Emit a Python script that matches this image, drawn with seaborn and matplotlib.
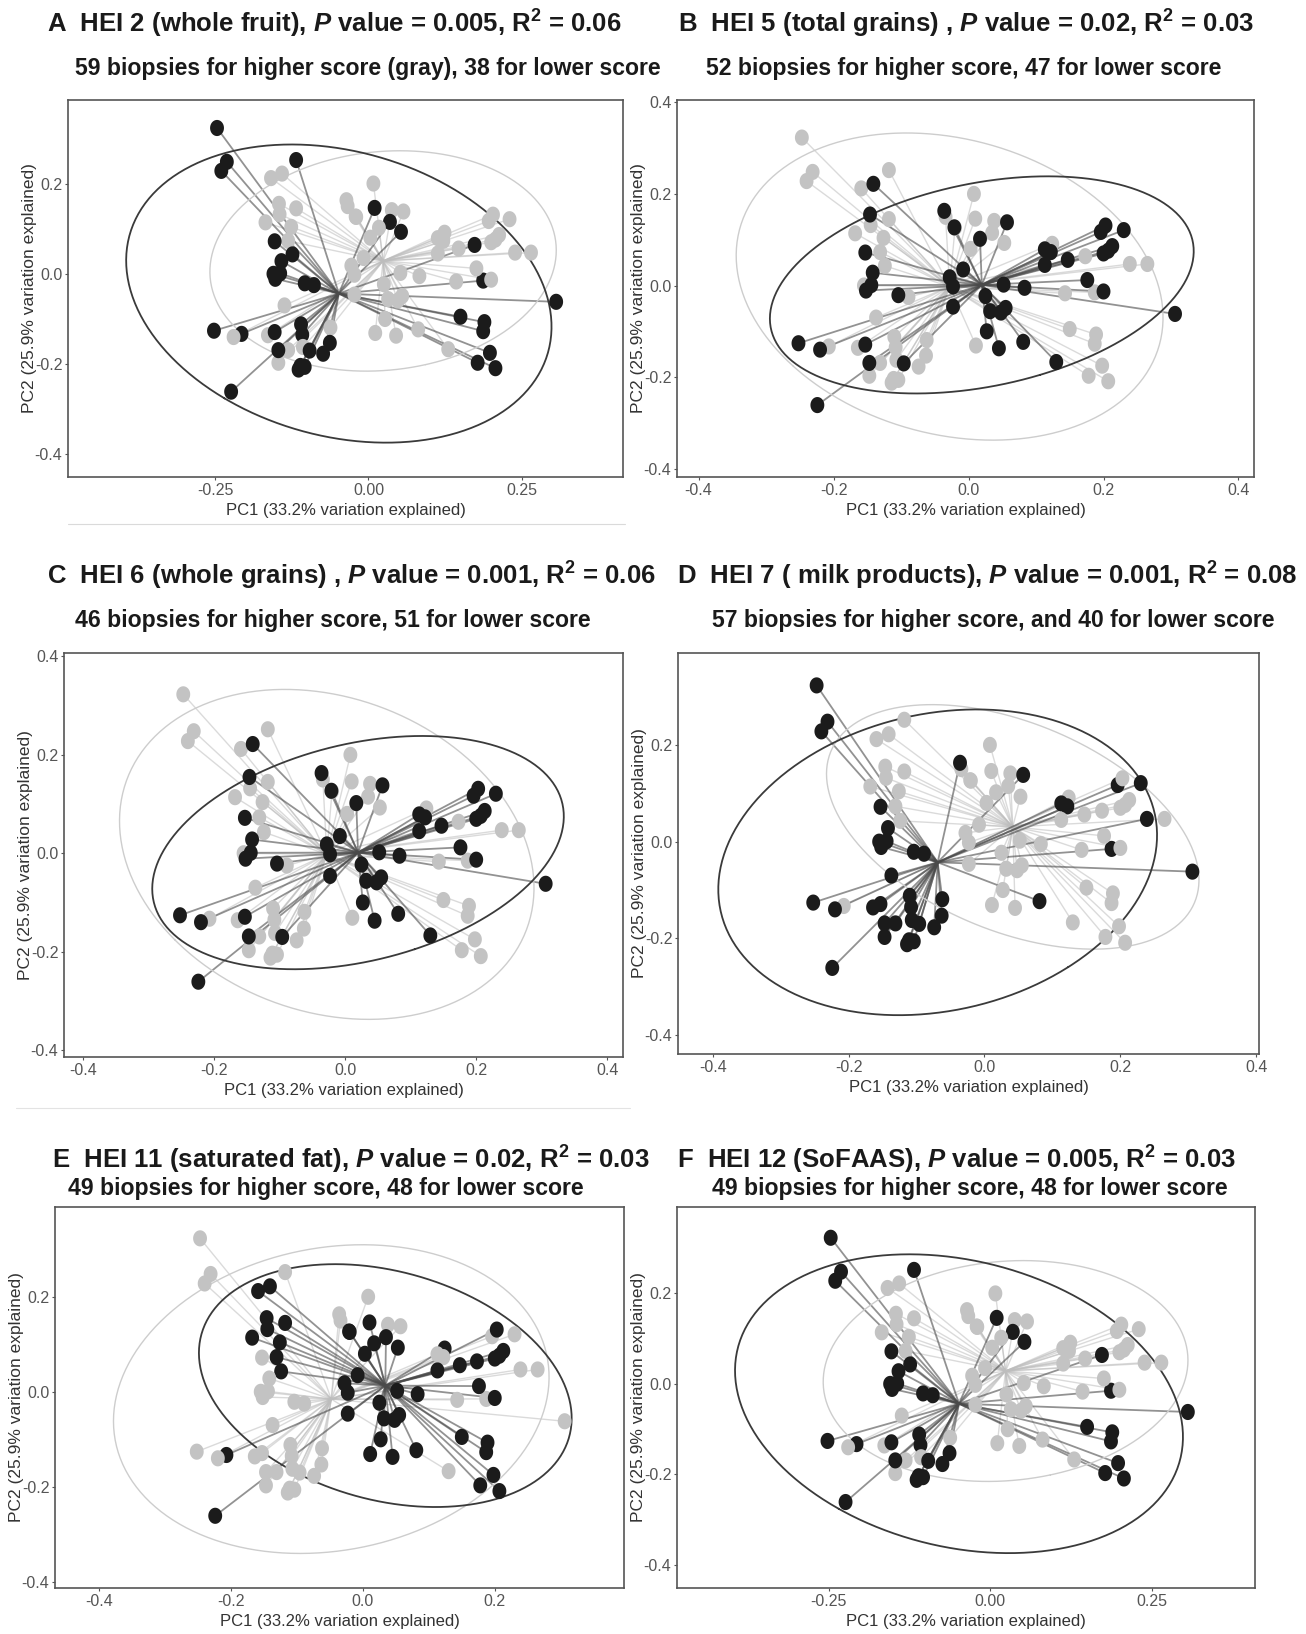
import numpy as np
import pandas as pd
import matplotlib
matplotlib.use("Agg")
import matplotlib.pyplot as plt
import seaborn as sns
from matplotlib import font_manager
from matplotlib.collections import LineCollection
from matplotlib.path import Path
from matplotlib.lines import Line2D

# ---------------- data (PCoA coordinates, shared by all panels) ----------------
PC1 = [-0.247, -0.231, -0.240, -0.118, -0.159, 0.008, -0.118, -0.145, -0.168, -0.126,
       -0.131, -0.124, -0.155, -0.089, -0.137, -0.034, -0.020, 0.010, 0.038, 0.035,
       0.053, 0.003, 0.124, 0.173, 0.239, 0.265, 0.143, 0.187, 0.150, 0.189,
       0.187, 0.198, 0.178, 0.207, 0.011, -0.207, -0.164, -0.110, -0.108, -0.062,
       -0.063, -0.131, -0.107, -0.074, -0.147, -0.111, -0.104,
       -0.141, -0.146, -0.036, -0.021, 0.057, 0.017, -0.153, -0.142, -0.144, -0.152,
       -0.104, -0.008, -0.028, -0.023, -0.023, 0.113, 0.122, 0.113, 0.147, 0.196,
       0.203, 0.230, 0.213, 0.200, 0.176, 0.200, 0.052, 0.083, 0.025, 0.032,
       0.048, 0.055, 0.027, 0.045, 0.081, 0.130, 0.306, -0.252, -0.220, -0.153,
       -0.147, -0.096, -0.224, -0.114, 0.207]
PC2 = [0.323, 0.248, 0.228, 0.252, 0.212, 0.200, 0.145, 0.132, 0.114, 0.104,
       0.073, 0.043, 0.000, -0.025, -0.070, 0.150, 0.126, 0.146, 0.141, 0.115,
       0.093, 0.080, 0.091, 0.064, 0.047, 0.047, -0.017, -0.015, -0.095, -0.107,
       -0.127, -0.175, -0.197, -0.209, -0.131, -0.133, -0.136, -0.112, -0.135, -0.119,
       -0.153, -0.169, -0.162, -0.177, -0.197, -0.204, -0.206,
       0.222, 0.155, 0.163, 0.127, 0.138, 0.102, 0.072, 0.028, 0.001, -0.011,
       -0.021, 0.035, 0.018, -0.002, -0.046, 0.079, 0.073, 0.045, 0.056, 0.117,
       0.131, 0.121, 0.086, 0.070, 0.012, -0.013, 0.002, -0.005, -0.023, -0.056,
       -0.059, -0.049, -0.100, -0.137, -0.123, -0.167, -0.062, -0.126, -0.140, -0.129,
       -0.169, -0.170, -0.261, -0.212, 0.076]

# indices of biopsies with the LOWER score (black) in each panel
LOWER_A = [0, 1, 2, 3, 17, 19, 20, 23, 53, 11, 54, 12, 55, 56, 57, 13, 27, 83, 28, 29,
           30, 31, 32, 33, 84, 35, 86, 37, 38, 87, 88, 40, 43, 45, 46, 90, 89]
LOWER_B = list(range(47, 90)) + [91]
LOWER_C = list(range(47, 90)) + [91]
LOWER_D = [0, 1, 2, 49, 51, 53, 54, 12, 55, 56, 57, 13, 62, 63, 66, 68, 24, 27, 83, 81,
           14, 84, 85, 36, 86, 37, 38, 39, 40, 87, 41, 42, 88, 43, 44, 45, 90, 46, 89]
LOWER_E = [4, 47, 48, 7, 6, 8, 9, 10, 11, 16, 50, 17, 52, 19, 21, 20, 58, 59, 60, 61,
           73, 74, 75, 76, 77, 78, 79, 34, 80, 81, 22, 64, 65, 23, 67, 69, 70, 71, 72, 28,
           29, 30, 31, 32, 33, 35, 89, 91]
LOWER_F = LOWER_A

TITLES = [r"A  HEI 2 (whole fruit), $\mathit{P}$ value = 0.005, R$^{\mathbf{2}}$ = 0.06",
          r"B  HEI 5 (total grains) , $\mathit{P}$ value = 0.02, R$^{\mathbf{2}}$ = 0.03",
          r"C  HEI 6 (whole grains) , $\mathit{P}$ value = 0.001, R$^{\mathbf{2}}$ = 0.06",
          r"D  HEI 7 ( milk products), $\mathit{P}$ value = 0.001, R$^{\mathbf{2}}$ = 0.08",
          r"E  HEI 11 (saturated fat), $\mathit{P}$ value = 0.02, R$^{\mathbf{2}}$ = 0.03",
          r"F  HEI 12 (SoFAAS), $\mathit{P}$ value = 0.005, R$^{\mathbf{2}}$ = 0.03"]
SUBTITLES = ["59 biopsies for higher score (gray), 38 for lower score",
             "52 biopsies for higher score, 47 for lower score",
             "46 biopsies for higher score, 51 for lower score",
             "57 biopsies for higher score, and 40 for lower score",
             "49 biopsies for higher score, 48 for lower score",
             "49 biopsies for higher score, 48 for lower score"]

TICKS_25 = [-0.25, 0.0, 0.25]
TICKLAB_25 = ["-0.25", "0.00", "0.25"]
TICKS_4 = [-0.4, -0.2, 0.0, 0.2, 0.4]
TICKLAB_4 = ["-0.4", "-0.2", "0.0", "0.2", "0.4"]
TICKS_3 = [-0.4, -0.2, 0.0, 0.2]
TICKLAB_3 = ["-0.4", "-0.2", "0.0", "0.2"]

XLABEL = "PC1 (33.2% variation explained)"
YLABEL = "PC2 (25.9% variation explained)"

# ---------------- style ----------------
sns.set_theme(style="white")
names = {f.name for f in font_manager.fontManager.ttflist}
NARROW = "Liberation Sans Narrow" if "Liberation Sans Narrow" in names else "Liberation Sans"
plt.rcParams["font.family"] = ["Liberation Sans", "DejaVu Sans"]
plt.rcParams["mathtext.fontset"] = "custom"
plt.rcParams["mathtext.it"] = "Liberation Sans:italic:bold"
plt.rcParams["mathtext.rm"] = "Liberation Sans:bold"
plt.rcParams["mathtext.bf"] = "Liberation Sans:bold"

W, H = 1306, 1634
fig = plt.figure(figsize=(W / 100, H / 100), dpi=100)
fig.patch.set_facecolor("white")

BLACK = "#1b1b1b"
GRAY = "#c3c3c3"

t = np.linspace(0, 2 * np.pi, 60)
marker_path = Path(np.column_stack([0.43 * np.cos(t), 0.5 * np.sin(t)]), closed=True)


def ellipse(x, y, k=2.2, n=300):
    x = np.asarray(x); y = np.asarray(y)
    cov = np.cov(x, y)
    vals, vecs = np.linalg.eigh(cov)
    a = np.linspace(0, 2 * np.pi, n)
    circ = np.vstack([np.cos(a), np.sin(a)]) * np.sqrt(vals)[:, None] * k
    pts = vecs @ circ
    return pts[0] + x.mean(), pts[1] + y.mean()


panels = [
    dict(px=(68, 100, 623, 477), xlim=(-0.49, 0.415), ylim=(-0.45, 0.385),
         xt=(TICKS_25, TICKLAB_25), yt=(TICKS_3, TICKLAB_3), low=LOWER_A,
         tpos=(47, 24), spos=(75, 68)),
    dict(px=(677, 100, 1254, 477), xlim=(-0.432, 0.423), ylim=(-0.418, 0.405),
         xt=(TICKS_4, TICKLAB_4), yt=(TICKS_4, TICKLAB_4), low=LOWER_B,
         tpos=(678, 24), spos=(706, 68)),
    dict(px=(64, 653, 623, 1057), xlim=(-0.429, 0.424), ylim=(-0.414, 0.407),
         xt=(TICKS_4, TICKLAB_4), yt=(TICKS_4, TICKLAB_4), low=LOWER_C,
         tpos=(47, 576), spos=(75, 620)),
    dict(px=(678, 653, 1259, 1054), xlim=(-0.451, 0.404), ylim=(-0.439, 0.39),
         xt=(TICKS_4, TICKLAB_4), yt=(TICKS_3, TICKLAB_3), low=LOWER_D,
         tpos=(677, 576), spos=(712, 620)),
    dict(px=(55, 1207, 624, 1588), xlim=(-0.467, 0.396), ylim=(-0.413, 0.389),
         xt=(TICKS_3, TICKLAB_3), yt=(TICKS_3, TICKLAB_3), low=LOWER_E,
         tpos=(52, 1160), spos=(68, 1188)),
    dict(px=(677, 1207, 1255, 1588), xlim=(-0.485, 0.41), ylim=(-0.451, 0.391),
         xt=(TICKS_25, TICKLAB_25), yt=(TICKS_3, TICKLAB_3), low=LOWER_F,
         tpos=(677, 1160), spos=(712, 1188)),
]

for i, p in enumerate(panels):
    l, tp, r, b = p["px"]
    ax = fig.add_axes([l / W, 1 - b / H, (r - l) / W, (b - tp) / H])
    grp = np.array(["Higher"] * len(PC1), dtype=object)
    grp[p["low"]] = "Lower"
    df = pd.DataFrame({"PC1": PC1, "PC2": PC2, "grp": grp})

    # spiders
    for g, col, lw, al in [("Higher", "#bdbdbd", 1.0, 0.55), ("Lower", "#4a4a4a", 1.3, 0.6)]:
        sub = df[df.grp == g]
        cx, cy = sub.PC1.mean(), sub.PC2.mean()
        segs = [[(cx, cy), (x, y)] for x, y in zip(sub.PC1, sub.PC2)]
        ax.add_collection(LineCollection(segs, colors=col, linewidths=lw, alpha=al, zorder=1))
    # ellipses
    for g, col, lw in [("Higher", "#cdcdcd", 1.0), ("Lower", "#3a3a3a", 1.3)]:
        sub = df[df.grp == g]
        ex, ey = ellipse(sub.PC1, sub.PC2)
        ax.plot(ex, ey, color=col, lw=lw, zorder=2)
    # points
    sns.scatterplot(data=df, x="PC1", y="PC2", hue="grp",
                    palette={"Higher": GRAY, "Lower": BLACK},
                    marker=marker_path, s=135, linewidth=0, legend=False, ax=ax, zorder=3)

    ax.set_xlim(*p["xlim"]); ax.set_ylim(*p["ylim"])
    ax.set_xticks(p["xt"][0]); ax.set_xticklabels(p["xt"][1], fontfamily=NARROW)
    ax.set_yticks(p["yt"][0]); ax.set_yticklabels(p["yt"][1], fontfamily=NARROW)
    ax.tick_params(bottom=True, left=True, direction="out", length=2.5, width=0.8,
                   color="#555555", labelsize=11.5, labelcolor="#555555", pad=1.5)
    ax.set_xlabel(XLABEL, fontfamily=NARROW, fontsize=12, color="#333333", labelpad=4)
    ax.set_ylabel(YLABEL, fontsize=12.5, color="#333333")
    ax.yaxis.set_label_coords(-31 / (r - l), 0.5)
    for sp in ax.spines.values():
        sp.set_color("#555555"); sp.set_linewidth(1.2)
    ax.set_facecolor("white")

    tx, ty = p["tpos"]
    fig.text(tx / W, 1 - ty / H, TITLES[i], ha="left", va="center",
             fontsize=18.5, fontweight="bold", color="#1a1a1a")
    sx, sy = p["spos"]
    fig.text(sx / W, 1 - sy / H, SUBTITLES[i], ha="left", va="center",
             fontsize=16.6, fontweight="bold", color="#1a1a1a")

# faint rules under panels A and C
fig.add_artist(Line2D([68 / W, 625 / W], [1 - 524 / H] * 2, color="#dadada", lw=0.8))
fig.add_artist(Line2D([16 / W, 630 / W], [1 - 1108 / H] * 2, color="#e3e3e3", lw=0.8))

fig.savefig("out.png", dpi=100, facecolor="white")
